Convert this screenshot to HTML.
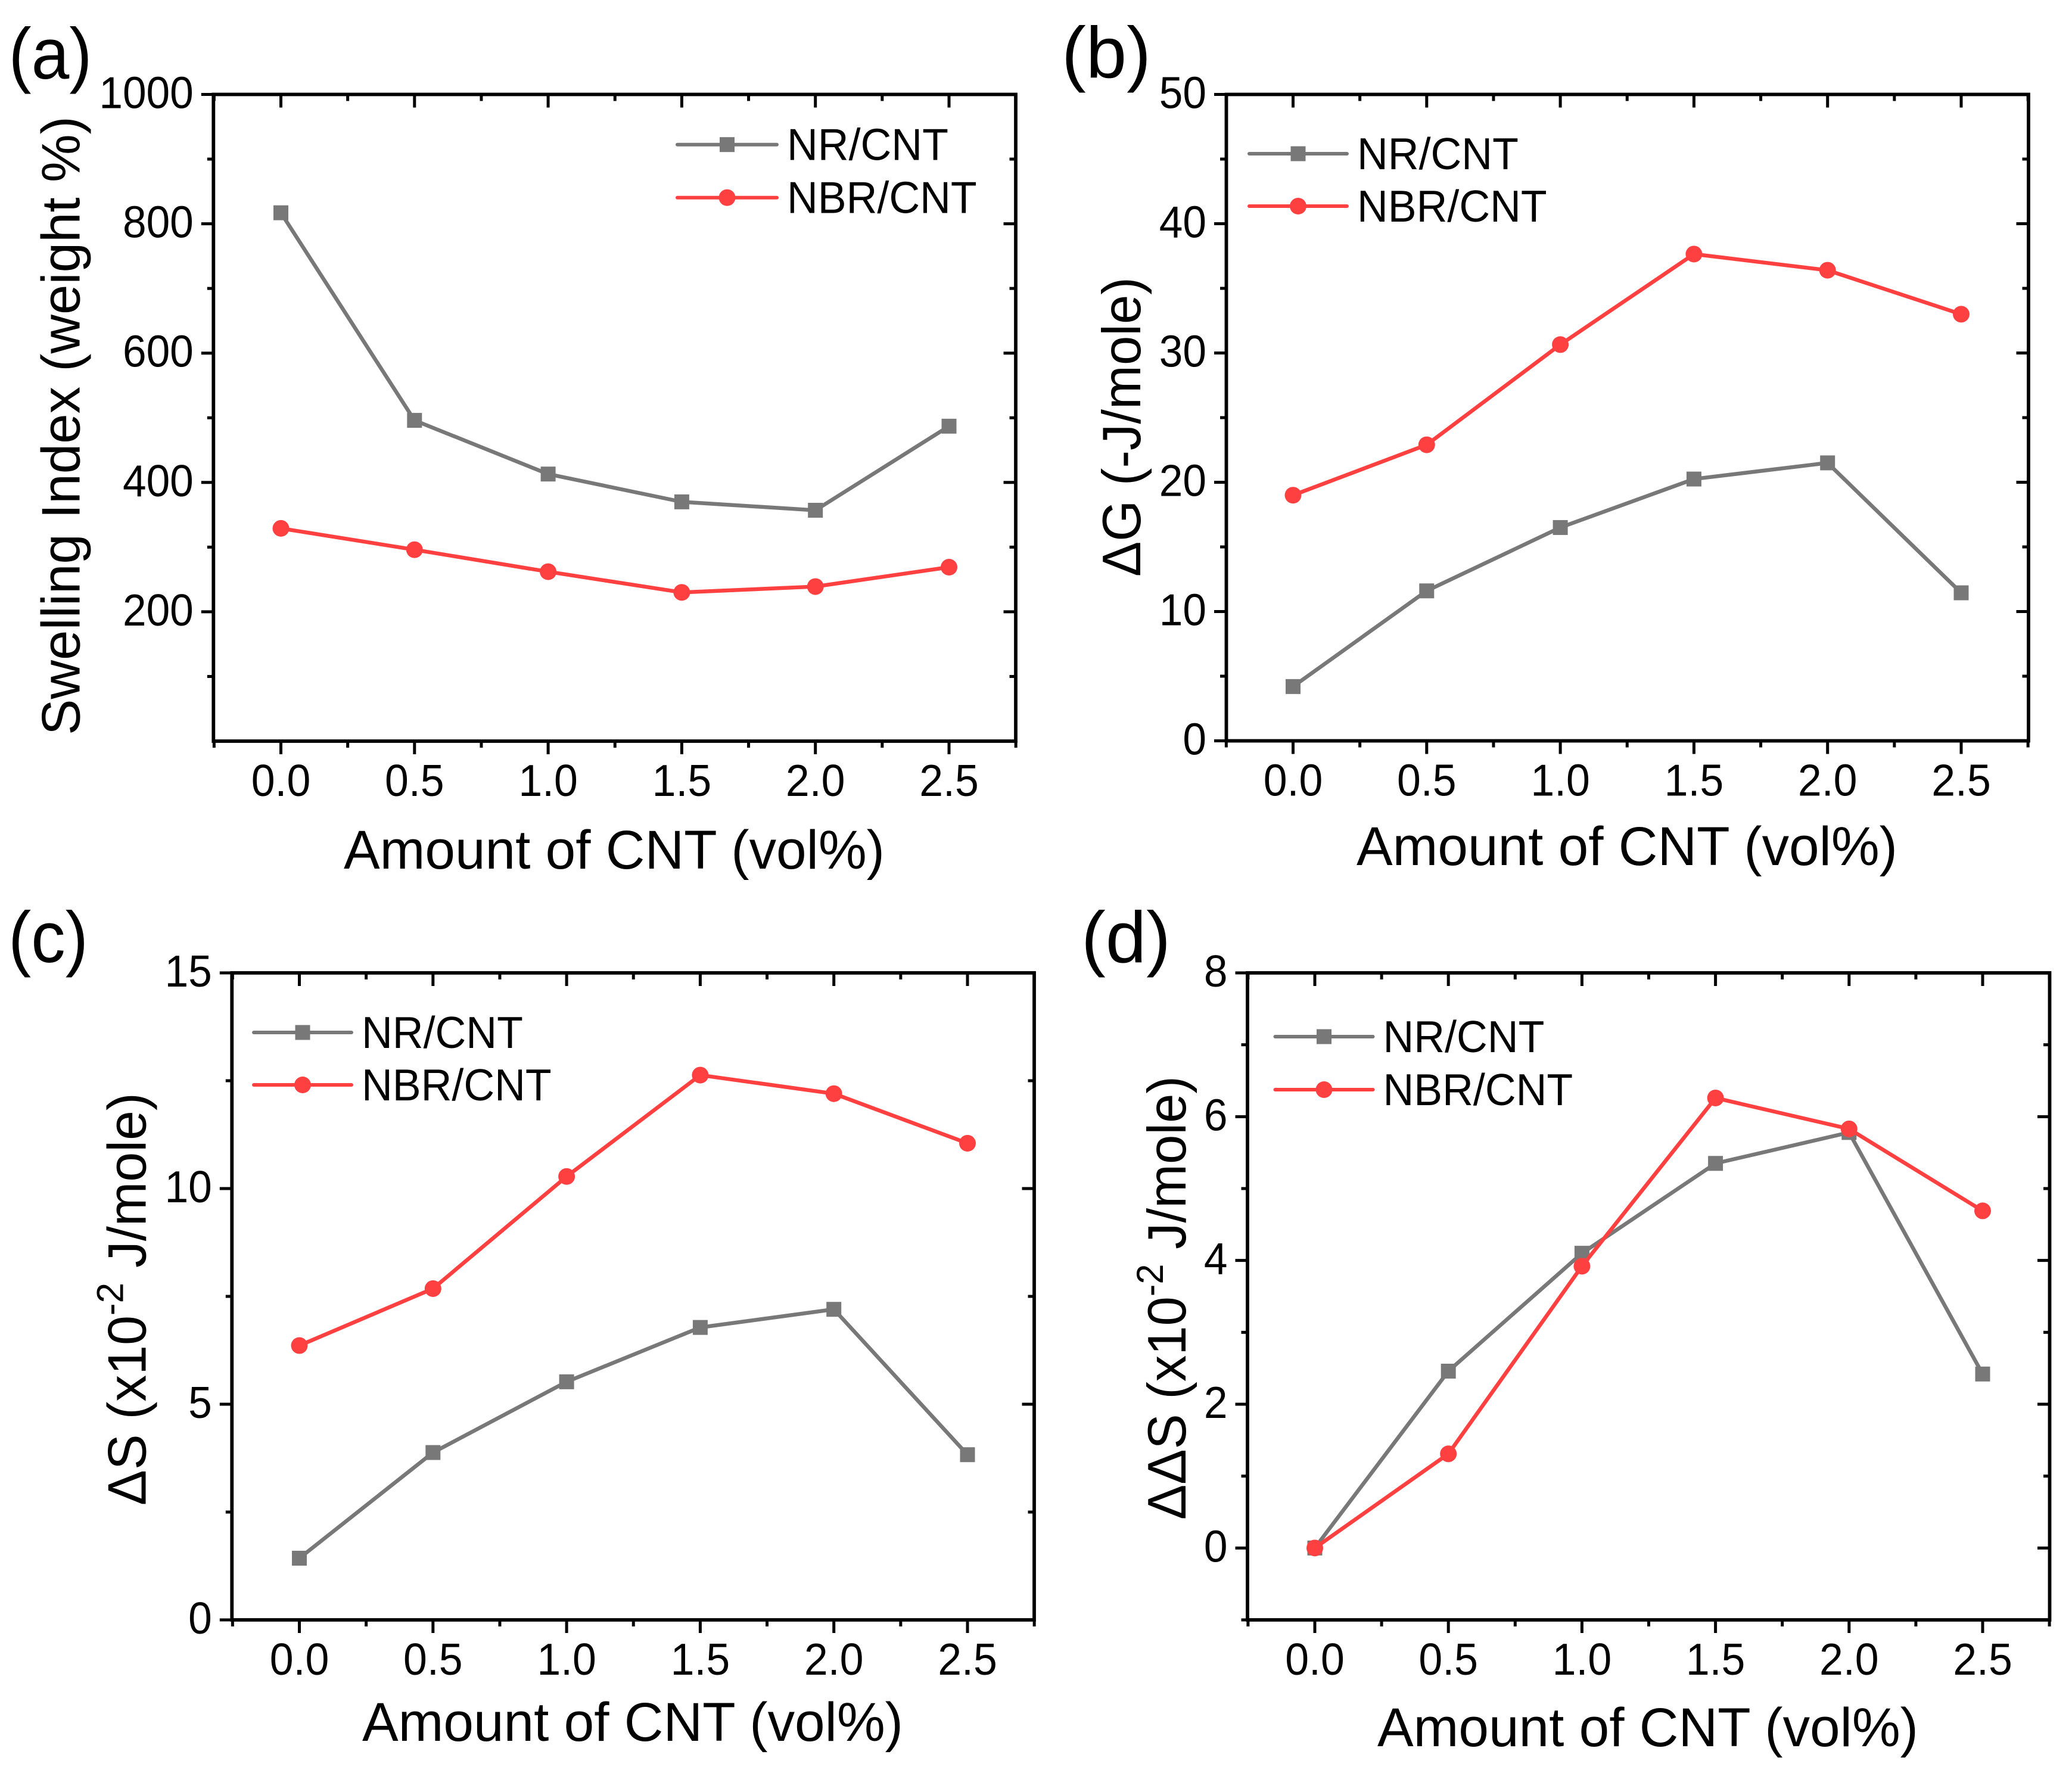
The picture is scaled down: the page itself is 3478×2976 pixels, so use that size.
<!DOCTYPE html>
<html lang="en">
<head>
<meta charset="utf-8">
<title>CNT composite charts</title>
<style>
html,body{margin:0;padding:0;background:#fff;}
svg{display:block;font-family:"Liberation Sans",sans-serif;fill:#000;}
</style>
</head>
<body>
<svg id="figure" xmlns="http://www.w3.org/2000/svg" width="3478" height="2976" viewBox="0 0 3478 2976">
<rect x="0" y="0" width="3478" height="2976" fill="#fff"/>
<text class="fit" data-x="14.5" data-y="132" data-w="140" font-size="122">(a)</text>
<text class="fit" data-x="1782" data-y="130" data-w="150" font-size="122">(b)</text>
<text class="fit" data-x="14" data-y="1615" data-w="134" font-size="122">(c)</text>
<text class="fit" data-x="1815" data-y="1615" data-w="150" font-size="122">(d)</text>
<text class="fit" data-x="577" data-y="1458" data-w="908" font-size="92">Amount of CNT (vol%)</text>
<text class="fit" data-x="2277" data-y="1452" data-w="908" font-size="92">Amount of CNT (vol%)</text>
<text class="fit" data-x="608" data-y="2922" data-w="908" font-size="92">Amount of CNT (vol%)</text>
<text class="fit" data-x="2312" data-y="2931" data-w="908" font-size="92">Amount of CNT (vol%)</text>
<text class="fit" data-x="133.5" data-y="1234" data-w="1039" data-r="-90" font-size="91">Swelling Index (weight %)</text>
<text class="fit" data-x="1914" data-y="968" data-w="503" data-r="-90" font-size="91">ΔG (-J/mole)</text>
<text class="fit" data-x="244.5" data-y="2527" data-w="693" data-r="-90" font-size="91" xml:space="preserve">ΔS (x10<tspan dy="-38" font-size="63">-2</tspan><tspan dy="38"> J/mole)</tspan></text>
<text class="fit" data-x="1990" data-y="2551" data-w="745" data-r="-90" font-size="91" xml:space="preserve">ΔΔS (x10<tspan dy="-38" font-size="63">-2</tspan><tspan dy="38"> J/mole)</tspan></text>
</svg>
<script>
// ---- chart data ----
var xCategories = [0, 0.5, 1, 1.5, 2, 2.5];
var xTickLabels = ["0.0", "0.5", "1.0", "1.5", "2.0", "2.5"];
var xMinorTicks = [-0.25, 0.25, 0.75, 1.25, 1.75, 2.25, 2.75];
var seriesNames = ["NR/CNT", "NBR/CNT"];

var swellingNR = [817, 496, 413, 370, 357, 487];
var swellingNBR = [329, 296, 262, 230, 239, 269];
var swellingYTicks = [200, 400, 600, 800, 1000];
var swellingYAllMajor = [200, 400, 600, 800, 1000];
var swellingYMinor = [100, 300, 500, 700, 900];

var deltaGNR = [4.2, 11.6, 16.5, 20.25, 21.5, 11.45];
var deltaGNBR = [19, 22.9, 30.65, 37.65, 36.4, 33];
var deltaGYTicks = [0, 10, 20, 30, 40, 50];
var deltaGYAllMajor = [0, 10, 20, 30, 40, 50];
var deltaGYMinor = [5, 15, 25, 35, 45];

var deltaSNR = [1.43, 3.88, 5.52, 6.78, 7.2, 3.83];
var deltaSNBR = [6.36, 7.68, 10.28, 12.63, 12.2, 11.05];
var deltaSYTicks = [0, 5, 10, 15];
var deltaSYAllMajor = [0, 5, 10, 15];
var deltaSYMinor = [2.5, 7.5, 12.5];

var ddSNR = [0, 2.46, 4.1, 5.35, 5.78, 2.42];
var ddSNBR = [0, 1.31, 3.92, 6.26, 5.83, 4.69];
var ddSYTicks = [0, 2, 4, 6, 8];
var ddSYAllMajor = [0, 2, 4, 6, 8];
var ddSYMinor = [-1, 1, 3, 5, 7];

// ---- layout ----
var GREY = "#787878", RED = "#ff4040";
var NS = "http://www.w3.org/2000/svg";
var svg = document.getElementById("figure");

var panels = [
  {id:"a", left:358.3, right:1705, top:158.5, bottom:1244, x0:471.5, x25:1593, yMin:0, yMax:1000,
   nr:swellingNR, nbr:swellingNBR, labels:swellingYTicks, major:swellingYAllMajor, minor:swellingYMinor,
   legX1:1137, legX2:1304, legY1:242.7, legY2:331.7},
  {id:"b", left:2058.5, right:3405, top:158.5, bottom:1243.5, x0:2170.5, x25:3292, yMin:0, yMax:50,
   nr:deltaGNR, nbr:deltaGNBR, labels:deltaGYTicks, major:deltaGYAllMajor, minor:deltaGYMinor,
   legX1:2097, legX2:2261, legY1:258, legY2:346},
  {id:"c", left:389.3, right:1736, top:1633, bottom:2719, x0:502.5, x25:1624, yMin:0, yMax:15,
   nr:deltaSNR, nbr:deltaSNBR, labels:deltaSYTicks, major:deltaSYAllMajor, minor:deltaSYMinor,
   legX1:426, legX2:590, legY1:1733, legY2:1821},
  {id:"d", left:2094, right:3440.5, top:1633, bottom:2719, x0:2207, x25:3328, yMin:-1, yMax:8,
   nr:ddSNR, nbr:ddSNBR, labels:ddSYTicks, major:ddSYAllMajor, minor:ddSYMinor,
   legX1:2140.5, legX2:2304.5, legY1:1740, legY2:1829}
];

function make(tag, attrs, parent) {
  var el = document.createElementNS(NS, tag);
  for (var k in attrs) el.setAttribute(k, attrs[k]);
  parent.appendChild(el);
  return el;
}

function drawMarker(kind, cx, cy, color, parent, name) {
  var m;
  if (kind === "square") {
    m = make("rect", {x:cx-12.5, y:cy-12.5, width:25, height:25, fill:color}, parent);
  } else {
    m = make("circle", {cx:cx, cy:cy, r:14, fill:color}, parent);
  }
  
  
}

function drawSeries(p, values, xScale, yScale, color, kind, key, g) {
  var pts = values.map(function (v, i) { return xScale(xCategories[i]) + "," + yScale(v); }).join(" ");
  var line = make("polyline", {points:pts, fill:"none", stroke:color, "stroke-width":6.5, "stroke-linejoin":"round"}, g);
  
  
  values.forEach(function (v, i) {
    drawMarker(kind, xScale(xCategories[i]), yScale(v), color, g, 'point-' + key + '-' + p.id + '-' + i);
  });
}

function tickLine(x1, y1, x2, y2, parent, name) {
  var t = make("line", {x1:x1, y1:y1, x2:x2, y2:y2, stroke:"#000", "stroke-width":5}, parent);
  
  
}

function drawLegendEntry(p, idx, y, color, kind, g) {
  var entry = make("g", {}, g);
  
  
  make("line", {x1:p.legX1, y1:y, x2:p.legX2, y2:y, stroke:color, "stroke-width":6, "stroke-linecap":"round"}, entry);
  drawMarker(kind, (p.legX1 + p.legX2) / 2, y, color, entry, 'legend-marker');
  var t = make("text", {transform:"translate(" + (p.legX2 + 17) + "," + (y + 26) + ") scale(0.95,1)", "font-size":75.5}, entry);
  t.textContent = seriesNames[idx];
  
  
}

panels.forEach(function (p) {
  var xUnit = (p.x25 - p.x0) / 2.5;
  function xScale(v) { return p.x0 + v * xUnit; }
  function yScale(v) { return p.bottom - (v - p.yMin) / (p.yMax - p.yMin) * (p.bottom - p.top); }

  var g = make("g", {}, svg);
  
  

  // x ticks (outward at the bottom, inward at the top)
  xCategories.forEach(function (v, i) {
    var x = xScale(v);
    tickLine(x, p.bottom, x, p.bottom + 22, g, 'x-major-tick');
    tickLine(x, p.top, x, p.top + 22, g, 'x-major-tick-top');
    var t = make("text", {transform:"translate(" + x + "," + (p.bottom + 92) + ") scale(0.955,1)", "text-anchor":"middle", "font-size":75}, g);
    t.textContent = xTickLabels[i];
    
    
  });
  xMinorTicks.forEach(function (v) {
    var x = xScale(v);
    tickLine(x, p.bottom, x, p.bottom + 11, g, 'x-minor-tick');
    tickLine(x, p.top, x, p.top + 11, g, 'x-minor-tick-top');
  });

  // y ticks (outward on the left, inward on the right)
  p.major.forEach(function (v) {
    var y = yScale(v);
    tickLine(p.left - 20.5, y, p.left, y, g, 'y-major-tick');
    tickLine(p.right - 20.5, y, p.right, y, g, 'y-major-tick-right');
  });
  p.minor.forEach(function (v) {
    var y = yScale(v);
    tickLine(p.left - 10.5, y, p.left, y, g, 'y-minor-tick');
    tickLine(p.right - 10.5, y, p.right, y, g, 'y-minor-tick-right');
  });
  p.labels.forEach(function (v) {
    var t = make("text", {transform:"translate(" + (p.left - 33.5) + "," + (yScale(v) + 23) + ") scale(0.95,1)", "text-anchor":"end", "font-size":75}, g);
    t.textContent = String(v);
    
    
  });

  // axis frame
  var frame = make("rect", {x:p.left, y:p.top, width:p.right - p.left, height:p.bottom - p.top, fill:"none", stroke:"#000", "stroke-width":5.8}, g);
  
  

  // series
  drawSeries(p, p.nr, xScale, yScale, GREY, "square", "nr", g);
  drawSeries(p, p.nbr, xScale, yScale, RED, "circle", "nbr", g);

  // legend
  var leg = make("g", {}, g);
  
  
  drawLegendEntry(p, 0, p.legY1, GREY, "square", leg);
  drawLegendEntry(p, 1, p.legY2, RED, "circle", leg);
});

// fit static titles to their measured widths
Array.prototype.forEach.call(document.querySelectorAll("text.fit"), function (t) {
  var w = parseFloat(t.getAttribute("data-w"));
  var len = t.getComputedTextLength();
  var r = t.getAttribute("data-r") || 0;
  t.setAttribute("transform", "translate(" + t.getAttribute("data-x") + "," + t.getAttribute("data-y") + ") rotate(" + r + ") scale(" + (w / len) + ",1)");
});
</script>
</body>
</html>
